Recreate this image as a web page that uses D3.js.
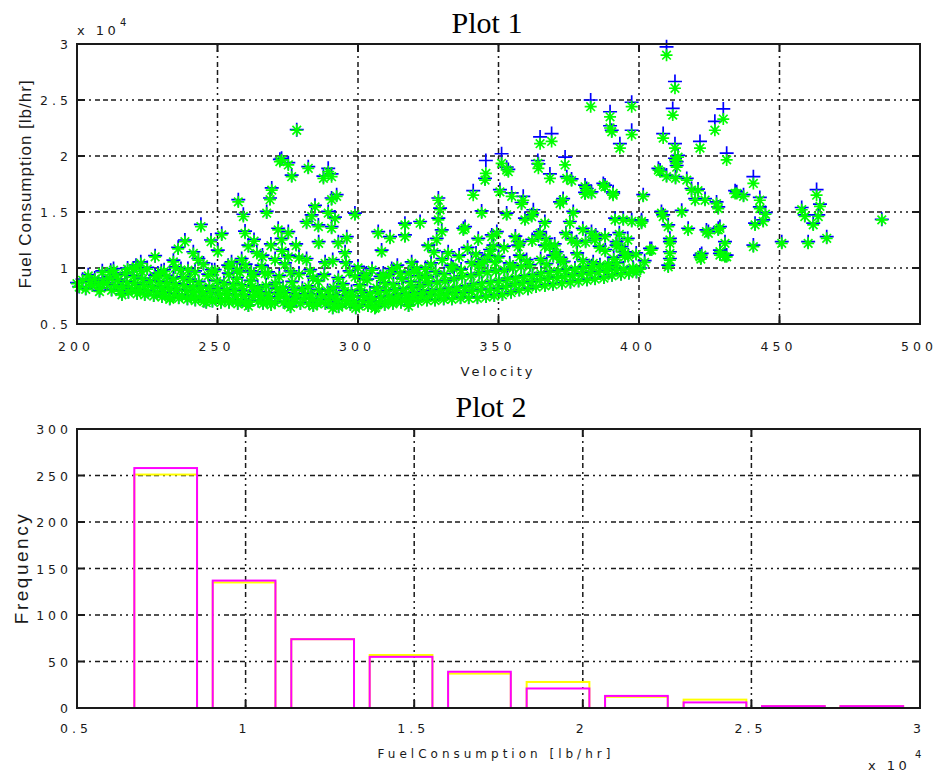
<!DOCTYPE html>
<html><head><meta charset="utf-8">
<script src="https://cdn.jsdelivr.net/npm/d3@7"></script>
<style>body{margin:0;background:#fff}svg{display:block}</style>
</head><body>
<svg id="c" width="937" height="774"></svg>
<script>
// ---------- Plot 1 data: velocity vs fuel consumption (lb/hr) ----------
const velocity = [
200,200.8,202,203.1,204.6,205.5,206.3,207.7,208.4,209.2,210.6,211.5,212.3,
213.6,214.5,215.2,214.1,216.4,217.8,218.3,217.1,219.6,220.7,221.4,220.2,222.5,223.8,224.1,223.3,222.9,
225.4,226.8,227.3,226.1,228.6,229.9,230.2,229.4,228.8,231.3,232.7,233.1,232.2,231.8,234.6,235.5,236.2,235.1,234.3,
237.4,238.9,239.3,238.2,237.8,240.6,241.7,242.1,241.3,240.2,243.5,244.8,245.1,244.2,243.3,246.4,247.6,248.2,247.1,246.7,
249.3,250.8,251.2,250.1,249.7,252.6,253.5,254.1,253.2,252.3,255.4,256.7,257.2,256.1,255.6,256.9,258.3,259.6,260.1,259.2,258.7,
261.4,262.8,263.1,262.2,261.7,264.5,265.6,266.2,265.1,264.3,267.6,268.5,269.1,268.2,267.3,270.4,271.7,272.1,271.2,270.6,
273.5,274.6,275.2,274.1,273.3,276.4,277.8,278.1,277.2,276.6,279.5,280.7,281.1,280.2,282.6,283.8,284.1,283.3,282.4,
285.5,286.7,287.2,286.1,285.8,288.4,289.6,290.1,289.2,291.5,292.7,293.1,292.2,291.3,294.4,295.8,296.1,295.2,294.6,
297.3,298.6,299.2,298.1,297.7,300.4,301.8,302.2,301.1,300.6,303.5,304.7,305.1,304.2,303.3,306.4,307.6,308.1,307.2,306.7,
309.5,310.8,311.2,310.1,309.6,312.4,313.7,314.1,313.2,312.6,315.3,316.8,317.2,316.1,315.6,318.4,319.7,320.1,319.2,318.8,
321.4,322.6,323.1,322.2,321.7,324.5,325.8,326.2,325.1,324.6,327.4,328.7,329.1,328.2,327.6,330.5,331.6,332.2,331.1,330.7,
333.4,334.7,335.1,334.2,333.8,336.5,337.6,338.2,337.1,336.7,339.4,340.6,341.1,340.2,342.5,343.7,344.1,343.2,342.8,345.6,346.8,347.2,346.1,
348.5,349.6,350.2,349.1,348.7,351.4,352.6,353.2,352.1,354.5,355.7,356.1,355.2,357.4,358.6,359.2,358.1,360.5,361.7,362.1,361.2,
363.4,364.7,365.1,366.5,367.6,368.2,367.1,369.4,370.8,371.2,372.6,373.5,374.1,373.2,375.6,376.4,377.2,378.5,379.6,380.2,
381.5,382.7,383.2,384.4,385.6,386.1,387.5,388.6,389.2,390.4,391.7,392.2,393.6,394.5,396.4,397.8,399.1,400.5,
212,220,222.7,227.8,227.8,234.3,235,238.4,239.5,241.4,243.2,244.1,247.7,250.1,251.5,253.8,257.4,258.6,259.2,259.8,
261,264,265.7,267.5,268.7,269.3,270.5,271.6,272.2,272.8,272.8,275.2,275.2,275.2,276.4,278.2,
281.7,281.7,282.3,283.5,284.7,285.9,287.7,288.3,289.4,289.4,290.6,290.6,290.6,291.8,292.4,295.4,295.7,296,298.9,
305,307.2,308.4,311.4,316.7,316.7,319.1,322.1,323.8,325,328,328.6,328.6,329.2,329.8,332.1,333.2,
337.5,338.1,340.4,341,342.8,344,344,345.2,345.5,346.4,347.6,348.2,349.4,350.5,351.1,352.9,352.9,353.5,354.7,
357,357.6,357.6,358.2,358.8,359.4,361.8,362.4,364,364.2,364.2,364.8,364.8,366.5,366.5,368.3,368.3,368.9,369.5,370.7,
371.9,373,373.7,374.3,375.4,376,376,376.6,377.8,380,380.8,380.8,381.4,382.8,383.1,383.1,383.7,384.3,384.6,
387.3,387.9,387.9,389,389.7,389.7,390.3,390.8,390.8,391.5,392,392,393.2,393.8,394.4,395,395,396.2,397.4,397.4,397.4,398,
400.9,400.9,401.5,403.9,404.5,406.9,407.5,408,408.6,408.6,409.8,409.8,410.4,410.4,411,411,411,411,412,412.8,412.8,412.8,413,413.4,413.4,413.9,
415.2,417,417.5,418.7,420,421,421.7,421.7,422,422.3,423.5,424,424.7,427,427.6,428.2,428.2,428.8,428.8,428.8,430,430.6,430.6,431.2,431.2,
434.2,434.8,437.2,440.7,440.7,441.3,443,443,444.2,445,450.8,457.9,459,460.2,462,463.2,463.8,464.4,466.8,486.4,
336,339,342,345,347,350,352,354,356,360,362,365,367,370,372,374,378,380,381,386,388,391,393,396,399,402,
230,236,245,248,255,257,260,262,263,266,267,269,273,274,276,278,279,283,286,291,293,297,300,302,309,312,314,318,321,326,327,330,
204,209,213,218,221,225,231,237,242,249,254,258,263,268,272,279,284,288,293,299,303,308,311,315,320,324,208,216,233,246,261,276,291,306,318
];
// green '*' series
const fuelModel = [
8600,8300,8900,8100,8700,8400,9000,8500,8200,8800,8600,9100,8000,
8400,8900,7900,9300,8300,8700,7800,9500,8100,8600,7700,9200,8000,8400,7600,9000,9700,
7900,8300,7500,8800,7800,8200,7400,8700,9400,7700,8100,7300,8600,9200,7600,8000,7300,8500,9000,
7500,7900,7200,8400,9100,7400,7800,7100,8300,8900,7400,7800,7000,8200,8700,7300,7700,7000,8300,9300,
7200,7600,6900,8100,8800,7200,7600,6900,8000,8600,7100,7500,6800,7900,8500,9000,7100,7500,6800,7900,8400,
7000,7400,7800,8300,8800,7000,7400,6800,7800,8200,7000,7300,6700,7700,8400,6900,7300,7700,8100,8600,
6900,7300,6700,7700,8200,6900,7200,7600,8000,8700,6800,7200,7600,8100,6800,7200,6600,7600,8300,
6800,7100,7500,8000,8800,6800,7100,7500,7900,6700,7100,6500,7500,8200,6700,7000,7400,7900,8500,
6700,7000,6400,7400,7800,6600,7000,7400,7900,8400,6600,6900,7300,7700,8900,6500,6900,7300,7800,8200,
6700,7000,7400,7900,8600,6800,7100,7500,8000,8500,6900,7200,7600,8100,9000,7000,7300,7700,8200,8700,
7000,7400,7800,8400,9200,7100,7500,7900,8600,9100,7100,7500,8000,8700,9600,7200,7600,8100,8800,9400,
7200,7700,8200,9000,10000,7300,7700,8300,9200,9800,7300,7900,8500,9300,7300,8000,8600,9500,10200,7400,8000,8700,9600,
7500,8100,8800,9700,10500,7600,8300,9000,9800,7800,8500,9100,10000,8000,8600,9200,10100,8100,8700,9300,10200,
8300,8900,9500,8400,9000,9600,10300,8500,9100,9700,8600,9200,9800,10500,8700,9300,9900,8800,9400,10000,
8900,9500,10100,9000,9600,10200,9100,9700,10300,9300,9800,10400,9400,9900,9500,10000,9600,9900,
9700,9900,10400,11000,9200,10550,10000,12350,9800,11300,10700,13700,12350,11450,12950,10100,15900,10700,14600,13100,
11900,11300,10100,14900,16100,16950,10700,13400,19500,19650,12500,19200,13100,11000,18150,22300,
14000,10700,18900,14600,15450,13700,18000,10400,18600,14900,18150,16100,13550,14400,16400,11300,10400,12650,14750,
9800,13100,11450,12650,13850,12800,10400,14000,9200,11900,12500,16050,14300,15200,13250,11300,10100,
13400,13550,10400,16500,12500,14900,10400,17850,18450,11000,12800,11900,13100,16800,19350,18750,14750,18600,16400,
11900,12200,11000,15700,16050,14300,14600,14900,19350,18900,12800,21100,13100,14000,11900,18000,11900,21300,11000,11300,
15750,16050,19200,18000,14000,17800,12500,14900,12200,13400,17250,16600,16950,24400,16650,13100,10400,12500,12800,
17400,17250,12800,10100,23500,22500,22150,16650,16500,14300,11900,12200,20700,11750,14300,11000,11300,11000,24400,21900,14150,9800,
14150,14000,16400,11600,11600,18750,18600,14900,21600,14600,29000,18150,13700,10100,12500,11300,10700,12200,23650,26050,20700,19650,18000,19350,19000,19900,
15000,17850,13400,16950,16050,16900,20700,11000,10800,11150,16050,13250,13100,22300,15750,15300,13400,13550,11450,11150,23300,12200,11000,19650,11000,
16650,16650,16400,17550,11900,13850,16050,15300,14150,14800,12200,15200,14600,12200,13850,16500,14600,15500,12650,14300,
11000,11700,11200,10600,11500,10900,11800,10300,12700,10600,12400,10700,12500,12000,10800,13000,11200,10600,12300,11800,11500,10800,13000,12500,11200,10500,
9600,11700,10300,9700,10400,9800,10200,9600,12400,11000,9500,12000,11500,10300,9600,12000,10900,9700,12200,10600,12200,9600,10000,9200,9400,9800,10100,9500,9900,10300,11400,10700,
9300,9600,9800,9900,10100,9900,9700,9800,9600,9700,9400,9600,9300,9500,9200,9400,9100,9300,9000,9200,9400,9100,9300,9500,9700,9900,7900,7600,7200,6900,6600,6500,6400,6400,6600
];
// blue '+' series
const fuelMeasured = [
8700,8350,9000,8200,8800,8500,9100,8600,8250,8900,8700,9200,8100,
8500,9000,8000,9450,8400,8800,7900,9600,8200,8700,7800,9350,8100,8500,7700,9100,9850,
8000,8400,7600,8900,7900,8300,7500,8800,9550,7800,8200,7400,8700,9350,7700,8100,7400,8600,9100,
7600,8000,7300,8500,9200,7500,7900,7200,8400,9000,7500,7900,7100,8300,8800,7400,7800,7100,8400,9450,
7300,7700,7000,8200,8900,7300,7700,7000,8100,8700,7200,7600,6900,8000,8600,9150,7200,7600,6900,8000,8500,
7100,7500,7900,8400,8900,7100,7500,6900,7900,8300,7100,7400,6800,7800,8500,7000,7400,7800,8200,8700,
7000,7400,6800,7800,8300,7000,7300,7700,8100,8800,6900,7300,7700,8200,6900,7300,6700,7700,8400,
6900,7200,7600,8100,8900,6900,7200,7600,8000,6800,7200,6600,7600,8300,6800,7100,7500,8000,8600,
6800,7100,6500,7500,7900,6700,7100,7500,8000,8500,6700,7000,7400,7800,9000,6600,7000,7400,7900,8300,
6800,7100,7500,8000,8700,6900,7200,7600,8100,8600,7000,7300,7700,8200,9100,7100,7400,7800,8300,8800,
7100,7500,7900,8500,9300,7200,7600,8000,8700,9200,7200,7600,8100,8800,9700,7300,7700,8200,8900,9500,
7300,7800,8300,9100,10100,7400,7800,8400,9300,9900,7400,8000,8600,9400,7400,8100,8700,9600,10300,7500,8100,8800,9700,
7600,8200,8900,9800,10600,7700,8400,9100,9900,7900,8600,9200,10100,8100,8700,9300,10200,8200,8800,9400,10300,
8400,9000,9600,8500,9100,9700,10400,8600,9200,9800,8700,9300,9900,10600,8800,9400,10000,8900,9500,10100,
9000,9600,10200,9100,9700,10300,9200,9800,10400,9400,9900,10500,9500,10000,9600,10100,9700,10000,
9800,10000,10550,11100,9350,10700,10100,12500,9950,11450,10850,13900,12500,11600,13100,10250,16100,10850,14800,13300,
12050,11450,10250,15050,16250,17150,10850,13550,19700,19800,12650,19400,13250,11150,18300,22350,
14150,10850,19050,14750,15600,13850,18200,10550,18900,15050,18400,16250,13700,14550,16550,11450,10550,12800,14900,
9950,13250,11600,12800,14000,12950,10550,14150,9350,12050,12650,16250,14450,15350,13400,11450,10250,
13550,13700,10550,16900,12650,15100,10550,18000,19600,11150,12950,12050,13250,17000,20200,19000,14900,18800,16700,
12050,12350,11150,15850,16400,14450,14750,15200,19600,19300,12950,21700,13250,14150,12050,18400,12050,22000,11150,11450,
15900,16200,19900,18150,14150,17950,12650,15050,12350,13550,17400,16750,17100,25000,16800,13250,10550,12650,12950,
17550,17400,12950,10250,23950,22700,22300,16800,16650,14450,12050,12350,21100,11900,14450,11150,11450,11150,24800,22300,14300,9950,
14300,14150,16550,11750,11750,18900,18750,15050,22000,14750,29750,18300,13850,10250,12650,11450,10850,12350,24250,26650,21100,19800,18150,19500,19150,20050,
15150,18000,13550,17100,16200,17050,21300,11150,10950,11300,16200,13400,13250,23100,15900,15450,13550,13700,11600,11300,24200,12350,11150,20250,11150,
16900,16800,16550,18150,12050,14000,16300,15450,14300,14950,12350,15400,14750,12350,14000,17000,14750,15700,12800,14350,
11150,11850,11350,10750,11650,11050,11950,10450,12850,10750,12550,10850,12650,12150,10950,13150,11350,10750,12450,11950,11650,10950,13150,12650,11350,10650,
9750,11850,10450,9850,10550,9950,10350,9750,12550,11150,9650,12150,11650,10450,9750,12150,11050,9850,12350,10750,12350,9750,10150,9350,9550,9950,10250,9650,10050,10450,11550,10850,
9400,9750,9950,10000,10250,10050,9850,9950,9750,9850,9550,9750,9450,9650,9350,9550,9250,9450,9150,9350,9550,9250,9450,9650,9850,10050,8000,7700,7300,7000,6700,6600,6500,6500,6700
];

// ---------- Plot 2 data: histogram of fuel consumption ----------
const binCenters     = [7630, 9955, 12285, 14610, 16935, 19265, 21590, 23920, 26245, 28570];
const countsMeasured = [251, 135, 74, 57, 37, 28, 12, 9, 2, 2];   // yellow
const countsModel    = [258, 137, 74, 55, 39, 21, 13, 6, 2, 2];   // magenta

// ---------- ticks ----------
const velTicks  = [200, 250, 300, 350, 400, 450, 500];
const fuelTicks = [5000, 10000, 15000, 20000, 25000, 30000];
const fuelTickLabels = ["0.5", "1", "1.5", "2", "2.5", "3"];
const freqTicks = [0, 50, 100, 150, 200, 250, 300];

// ---------- drawing ----------
const svg = d3.select("#c");
const TF = '"DejaVu Sans", "Liberation Sans", sans-serif';
const INK = "#1a1a1a";
const DASH = "2,4,2,4,2,4,5,3,5,3,5,4";

function spaced(g, x, y, str, size, ls, anchor) {
  return g.append("text").attr("x", x).attr("y", y)
    .attr("font-family", TF).attr("font-size", size)
    .style("letter-spacing", ls + "px")
    .attr("fill", INK).attr("text-anchor", anchor)
    .attr("dx", anchor === "end" ? ls : 0)
    .text(str);
}

function frame(g, x, y, xt, yt) {
  const [x0, x1] = x.range(), [y0, y1] = y.range();
  g.selectAll(".gx").data(xt.filter(v => x(v) > x0 + 1 && x(v) < x1 - 1)).join("line")
    .attr("x1", d => x(d)).attr("x2", d => x(d)).attr("y1", y1).attr("y2", y0)
    .attr("stroke", INK).attr("stroke-width", 1.5).attr("stroke-dasharray", DASH);
  g.selectAll(".gy").data(yt.filter(v => y(v) < y0 - 1 && y(v) > y1 + 1)).join("line")
    .attr("y1", d => y(d)).attr("y2", d => y(d)).attr("x1", x0).attr("x2", x1)
    .attr("stroke", INK).attr("stroke-width", 1.5).attr("stroke-dasharray", DASH);
}

function box(g, x, y, xt, yt) {
  const [x0, x1] = x.range(), [y0, y1] = y.range();
  const tl = 8;
  const ticks = g.append("g").attr("stroke", INK).attr("stroke-width", 2);
  xt.forEach(v => {
    ticks.append("line").attr("x1", x(v)).attr("x2", x(v)).attr("y1", y0).attr("y2", y0 - tl);
    ticks.append("line").attr("x1", x(v)).attr("x2", x(v)).attr("y1", y1).attr("y2", y1 + tl);
  });
  yt.forEach(v => {
    ticks.append("line").attr("y1", y(v)).attr("y2", y(v)).attr("x1", x0).attr("x2", x0 + tl);
    ticks.append("line").attr("y1", y(v)).attr("y2", y(v)).attr("x1", x1).attr("x2", x1 - tl);
  });
  g.append("rect").attr("x", x0).attr("y", y1).attr("width", x1 - x0).attr("height", y0 - y1)
    .attr("fill", "none").attr("stroke", INK).attr("stroke-width", 2);
}

// ===== Plot 1 =====
const x1 = d3.scaleLinear().domain([200, 500]).range([77, 920]);
const y1 = d3.scaleLinear().domain([5000, 30000]).range([324, 44]);
const p1 = svg.append("g");
frame(p1, x1, y1, velTicks, fuelTicks);

const n = Math.min(velocity.length, fuelModel.length, fuelMeasured.length);
const idx = d3.range(n);
const plusPath = "M-7,0H7M0,-7V7";
const starPath = "M-6,0H6M0,-6V6M-4.3,-4.3L4.3,4.3M-4.3,4.3L4.3,-4.3";
p1.append("g").selectAll("path").data(idx).join("path")
  .attr("transform", i => `translate(${x1(velocity[i])},${y1(fuelMeasured[i])})`)
  .attr("d", plusPath).attr("stroke", "#0000ff").attr("stroke-width", 1.7).attr("fill", "none");
p1.append("g").selectAll("path").data(idx).join("path")
  .attr("transform", i => `translate(${x1(velocity[i])},${y1(fuelModel[i])})`)
  .attr("d", starPath).attr("stroke", "#00ff00").attr("stroke-width", 1.7).attr("fill", "none");

box(p1, x1, y1, velTicks, fuelTicks);
velTicks.forEach(v => spaced(p1, x1(v) - 1, 351, String(v), 12.5, 4, "middle"));
fuelTicks.forEach((v, i) => spaced(p1, 68, y1(v) + 5, fuelTickLabels[i], 12.5, 4, "end"));
spaced(p1, 77, 35, "x 10", 13, 3.5, "start");
spaced(p1, 120, 26, "4", 10, 0, "start");
spaced(p1, 498, 376, "Velocity", 13, 3, "middle");
p1.append("text").attr("transform", "translate(31,184) rotate(-90)")
  .attr("font-family", '"Liberation Sans", Arial, sans-serif').attr("font-size", 17)
  .style("letter-spacing", "1px").attr("fill", INK).attr("text-anchor", "middle")
  .text("Fuel Consumption [lb/hr]");
svg.append("text").attr("x", 487).attr("y", 33).attr("text-anchor", "middle")
  .attr("font-family", '"Liberation Serif", "Times New Roman", serif').attr("font-size", 30)
  .attr("fill", "#000").text("Plot 1");

// ===== Plot 2 =====
const x2 = d3.scaleLinear().domain([5000, 30000]).range([77, 920]);
const y2 = d3.scaleLinear().domain([0, 300]).range([708, 429]);
const p2 = svg.append("g");
frame(p2, x2, y2, fuelTicks, freqTicks);
const bw = (x2(binCenters[1]) - x2(binCenters[0])) * 0.8;
p2.append("g").selectAll("rect").data(binCenters).join("rect")
  .attr("x", d => x2(d) - bw / 2).attr("width", bw)
  .attr("y", (d, i) => y2(countsMeasured[i])).attr("height", (d, i) => y2(0) - y2(countsMeasured[i]))
  .attr("fill", "none").attr("stroke", "#ffff00").attr("stroke-width", 2);
p2.append("g").selectAll("rect").data(binCenters).join("rect")
  .attr("x", d => x2(d) - bw / 2).attr("width", bw)
  .attr("y", (d, i) => y2(countsModel[i])).attr("height", (d, i) => y2(0) - y2(countsModel[i]))
  .attr("fill", "none").attr("stroke", "#ff00ff").attr("stroke-width", 2);
box(p2, x2, y2, fuelTicks, freqTicks);
fuelTicks.forEach((v, i) => spaced(p2, x2(v) - 1, 733, fuelTickLabels[i], 12.5, 4, "middle"));
freqTicks.forEach(v => spaced(p2, 68, y2(v) + 5, String(v), 12.5, 4, "end"));
spaced(p2, 496, 758, "FuelConsumption [lb/hr]", 12, 4, "middle");
spaced(p2, 868, 770, "x 10", 13, 3.5, "start");
spaced(p2, 915, 758, "4", 10, 0, "start");
p2.append("text").attr("transform", "translate(28,568) rotate(-90)")
  .attr("font-family", '"Liberation Sans", Arial, sans-serif').attr("font-size", 19)
  .style("letter-spacing", "2.5px").attr("fill", INK).attr("text-anchor", "middle")
  .text("Frequency");
svg.append("text").attr("x", 491).attr("y", 417).attr("text-anchor", "middle")
  .attr("font-family", '"Liberation Serif", "Times New Roman", serif').attr("font-size", 30)
  .attr("fill", "#000").text("Plot 2");
</script>
</body></html>
